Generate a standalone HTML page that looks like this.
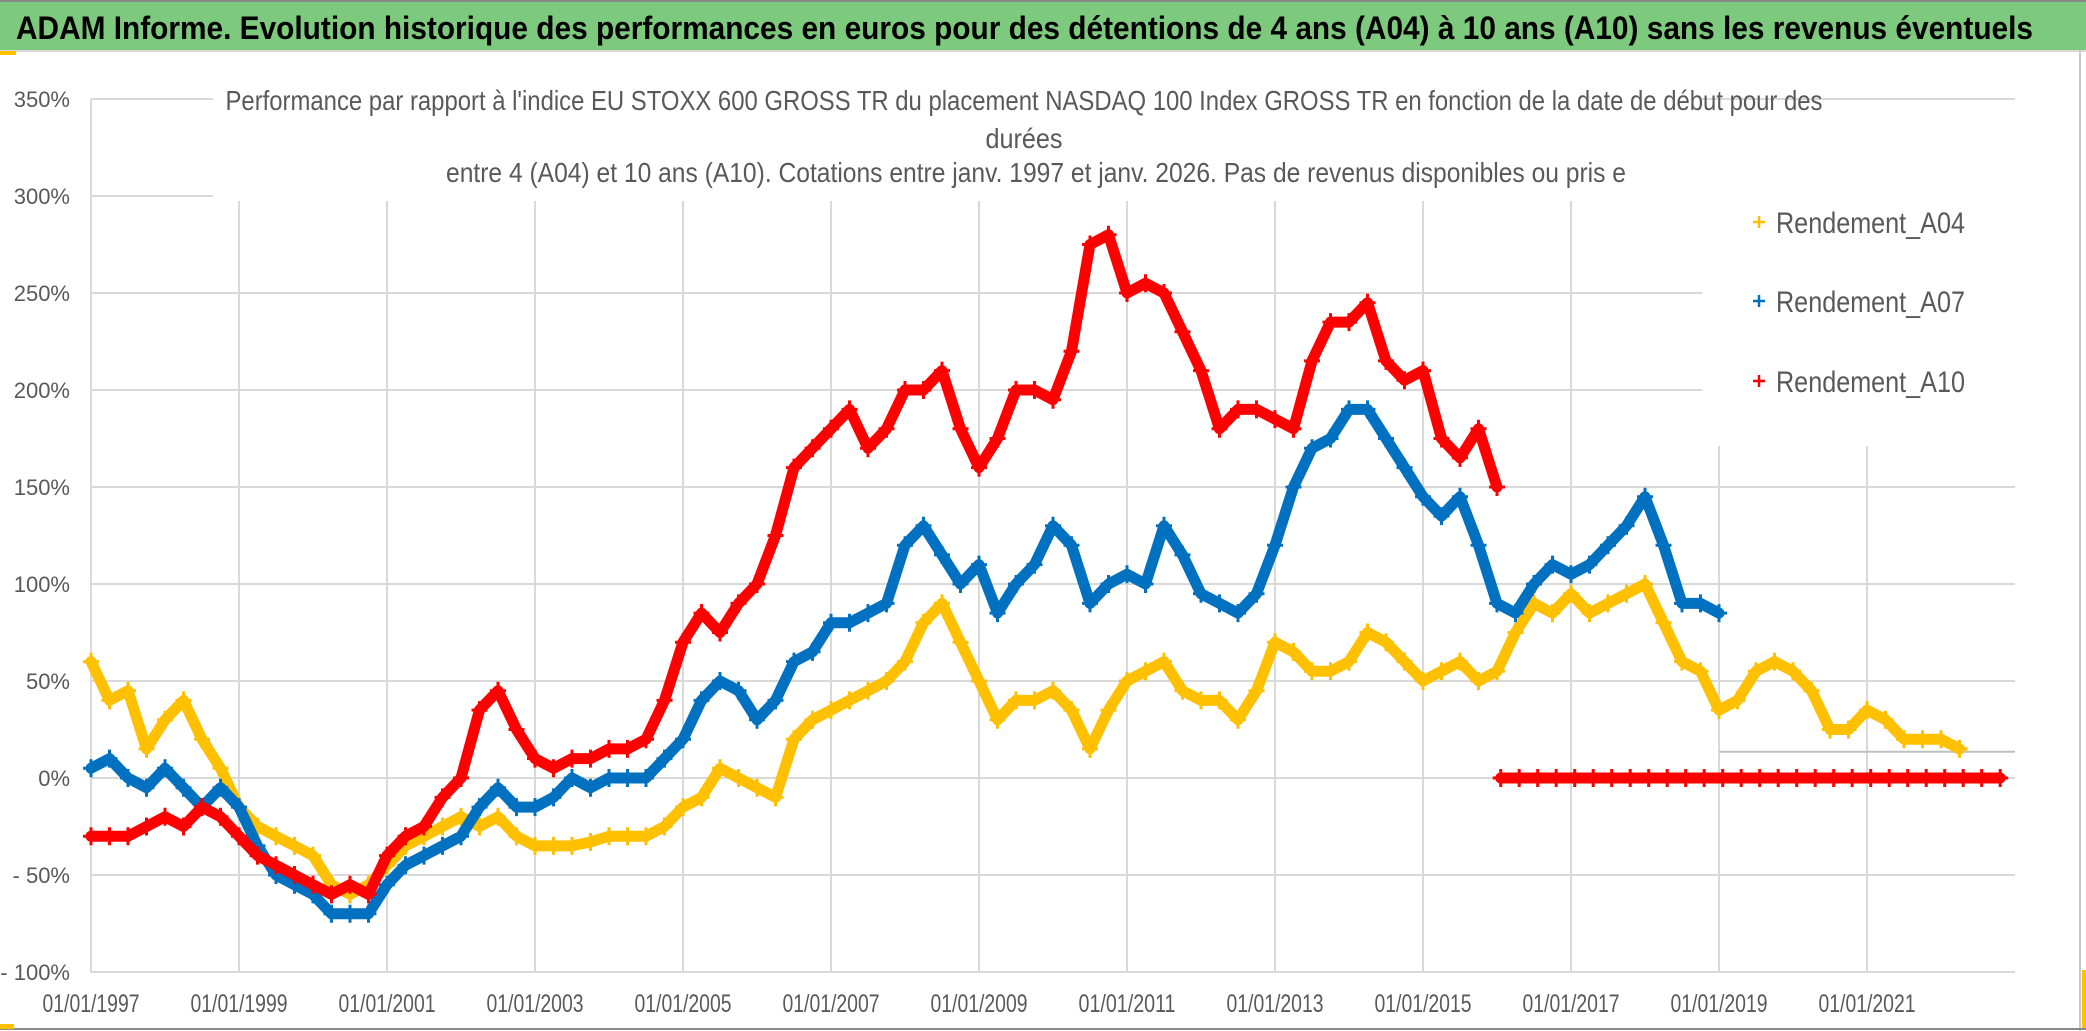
<!DOCTYPE html>
<html>
<head>
<meta charset="utf-8">
<style>
  html,body{margin:0;padding:0;background:#fff;}
  svg{display:block;}
  text{font-family:"Liberation Sans",sans-serif;}
</style>
</head>
<body>
<svg id="chart" width="2086" height="1031" viewBox="0 0 2086 1031" xmlns="http://www.w3.org/2000/svg">
  <rect x="0" y="0" width="2086" height="1031" fill="#ffffff"/>
  <rect x="0" y="0" width="2086" height="50" fill="#7dc97d"/>
  <line x1="0" y1="1" x2="2086" y2="1" stroke="#8a8a8a" stroke-width="2"/>
  <line x1="0" y1="51" x2="2086" y2="51" stroke="#d9d9d9" stroke-width="2"/>
  <text x="16" y="39" font-size="32" font-weight="bold" fill="#000" textLength="2017" lengthAdjust="spacingAndGlyphs">ADAM Informe. Evolution historique des performances en euros pour des détentions de 4 ans (A04) à 10 ans (A10) sans les revenus éventuels</text>
  <rect x="0" y="51" width="16" height="4" fill="#ffc000"/>
  <g id="grid"></g>
  <g id="yaxis"></g>
  <g id="xaxis"></g>
  <g id="series"></g>
  <rect x="213" y="80" width="1489" height="121" fill="#fff"/>
  <text x="1024" y="110" font-size="28" fill="#595959" text-anchor="middle" textLength="1597" lengthAdjust="spacingAndGlyphs">Performance par rapport à l'indice EU STOXX 600 GROSS TR  du placement NASDAQ 100 Index GROSS TR en fonction de la date de début pour des</text>
  <text x="1024" y="148" font-size="28" fill="#595959" text-anchor="middle" textLength="77" lengthAdjust="spacingAndGlyphs">durées</text>
  <text x="1036" y="182" font-size="28" fill="#595959" text-anchor="middle" textLength="1180" lengthAdjust="spacingAndGlyphs">entre 4 (A04) et 10 ans (A10). Cotations entre janv. 1997 et janv. 2026. Pas de revenus disponibles ou pris e</text>
  <g>
    <rect x="1702" y="186" width="316" height="260" fill="#fff"/>
    <g>
      <path d="M1753 222h12M1759 216v12" stroke="#ffc000" stroke-width="2.5"/>
      <text x="1776" y="233" font-size="30" fill="#595959" textLength="189" lengthAdjust="spacingAndGlyphs">Rendement_A04</text>
    </g>
    <g>
      <path d="M1753 301h12M1759 295v12" stroke="#0070c0" stroke-width="2.5"/>
      <text x="1776" y="312" font-size="30" fill="#595959" textLength="189" lengthAdjust="spacingAndGlyphs">Rendement_A07</text>
    </g>
    <g>
      <path d="M1753 381h12M1759 375v12" stroke="#ff0000" stroke-width="2.5"/>
      <text x="1776" y="392" font-size="30" fill="#595959" textLength="189" lengthAdjust="spacingAndGlyphs">Rendement_A10</text>
    </g>
  </g>
  <line x1="2080" y1="50" x2="2080" y2="1031" stroke="#c8c8c8" stroke-width="2"/>
  <line x1="0" y1="1029" x2="2086" y2="1029" stroke="#8a8a8a" stroke-width="2"/>
  <rect x="0" y="1024" width="14" height="5" fill="#ffc000"/>
  <rect x="2082" y="970" width="4" height="58" fill="#ffc000"/>
</svg>
<script>
const yTicks = [350, 300, 250, 200, 150, 100, 50, 0, -50, -100];
const yTickLabels = ["350%", "300%", "250%", "200%", "150%", "100%", "50%", "0%", "- 50%", "- 100%"];
const xTickYears = [1997, 1999, 2001, 2003, 2005, 2007, 2009, 2011, 2013, 2015, 2017, 2019, 2021];
const xTickLabels = ["01/01/1997","01/01/1999","01/01/2001","01/01/2003","01/01/2005","01/01/2007","01/01/2009","01/01/2011","01/01/2013","01/01/2015","01/01/2017","01/01/2019","01/01/2021"];
const seriesStart = 1997;
const seriesStep = 0.25;
const a04Values = [60,40,45,15, 30,40,20,5, -15,-25,-30,-35, -40,-55,-60,-55, -45,-35,-30,-25, -20,-25,-20,-30, -35,-35,-35,-33, -30,-30,-30,-25, -15,-10,5,0, -5,-10,20,30, 35,40,45,50, 60,80,90,70, 50,30,40,40, 45,35,15,35, 50,55,60,45, 40,40,30,45, 70,65,55,55, 60,75,70,60, 50,55,60,50, 55,75,90,85, 95,85,90,95, 100,80,60,55, 35,40,55,60, 55,45,25,25, 35,30,20,20, 20,15];
const a07Values = [5,10,0,-5, 5,-5,-15,-5, -15,-35,-50,-55, -60,-70,-70,-70, -55,-45,-40,-35, -30,-15,-5,-15, -15,-10,0,-5, 0,0,0,10, 20,40,50,45, 30,40,60,65, 80,80,85,90, 120,130,115,100, 110,85,100,110, 130,120,90,100, 105,100,130,115, 95,90,85,95, 120,150,170,175, 190,190,175,160, 145,135,145,120, 90,85,100,110, 105,110,120,130, 145,120,90,90, 85];
const a10Values = [-30,-30,-30,-25, -20,-25,-15,-20, -30,-40,-45,-50, -55,-60,-55,-60, -40,-30,-25,-10, 0,35,45,25, 10,5,10,10, 15,15,20,40, 70,85,75,90, 100,125,160,170, 180,190,170,180, 200,200,210,180, 160,175,200,200, 195,220,275,280, 250,255,250,230, 210,180,190,190, 185,180,215,235, 235,245,215,205, 210,175,165,180, 150];
const a10TailStart = 2016.05;
const a10TailValues = [0,0,0,0, 0,0,0,0, 0,0,0,0, 0,0,0,0, 0,0,0,0, 0,0,0,0, 0,0,0,0];
const extraLineValue = 13.5;
const extraLineFrom = 2019;

const NS = "http://www.w3.org/2000/svg";
const X0 = 91, XPY = 74, Y0 = 778, YPP = 1.94;
function xs(year){ return X0 + (year - 1997) * XPY; }
function ys(v){ return Y0 - v * YPP; }
function mk(tag, attrs, parent){ const e = document.createElementNS(NS, tag); for (const k in attrs) e.setAttribute(k, attrs[k]); parent.appendChild(e); return e; }

const grid = document.getElementById('grid');
const yaxis = document.getElementById('yaxis');
const xaxis = document.getElementById('xaxis');
const plotRight = xs(2023);

yTicks.forEach((v, i) => {
  const ln = mk('line', {x1: X0, x2: plotRight, y1: ys(v), y2: ys(v), stroke: '#d9d9d9', 'stroke-width': 2}, grid);
  
  
  const t = mk('text', {x: 70, y: ys(v) + 8, 'font-size': 22, fill: '#595959', 'text-anchor': 'end'}, yaxis);
  t.textContent = yTickLabels[i];
  
  
});
xTickYears.forEach((yr, i) => {
  if (i > 0) {
    const ln = mk('line', {x1: xs(yr), x2: xs(yr), y1: ys(300), y2: ys(-100), stroke: '#d9d9d9', 'stroke-width': 2}, grid);
    
    
  }
  const t = mk('text', {x: xs(yr), y: 1012, 'font-size': 25, fill: '#595959', 'text-anchor': 'middle', textLength: 97, lengthAdjust: 'spacingAndGlyphs'}, xaxis);
  t.textContent = xTickLabels[i];
  
  
});
const axl = mk('line', {x1: X0, x2: X0, y1: ys(350), y2: ys(-100), stroke: '#d9d9d9', 'stroke-width': 2}, grid);


const exl = mk('line', {x1: xs(extraLineFrom), x2: plotRight, y1: ys(extraLineValue), y2: ys(extraLineValue), stroke: '#bfbfbf', 'stroke-width': 2}, grid);



const seriesLayer = document.getElementById('series');
function drawSeries(values, start, color, name){
  const g = mk('g', {}, seriesLayer);
  
  
  const pts = values.map((v, i) => [xs(start + i * seriesStep), ys(v)]);
  const pl = mk('polyline', {points: pts.map(p => p.join(',')).join(' '), fill: 'none', stroke: color, 'stroke-width': 11, 'stroke-linejoin': 'round', 'stroke-linecap': 'round'}, g);
  
  
  pts.forEach(p => {
    const m = mk('path', {d: `M${p[0]-8} ${p[1]}h16M${p[0]} ${p[1]-9}v18`, stroke: color, 'stroke-width': 3}, g);
    
    
  });
}
drawSeries(a04Values, seriesStart, '#ffc000', 'series-a04');
drawSeries(a07Values, seriesStart, '#0070c0', 'series-a07');
drawSeries(a10Values, seriesStart, '#ff0000', 'series-a10');
drawSeries(a10TailValues, a10TailStart, '#ff0000', 'series-a10-tail');
</script>
</body>
</html>
